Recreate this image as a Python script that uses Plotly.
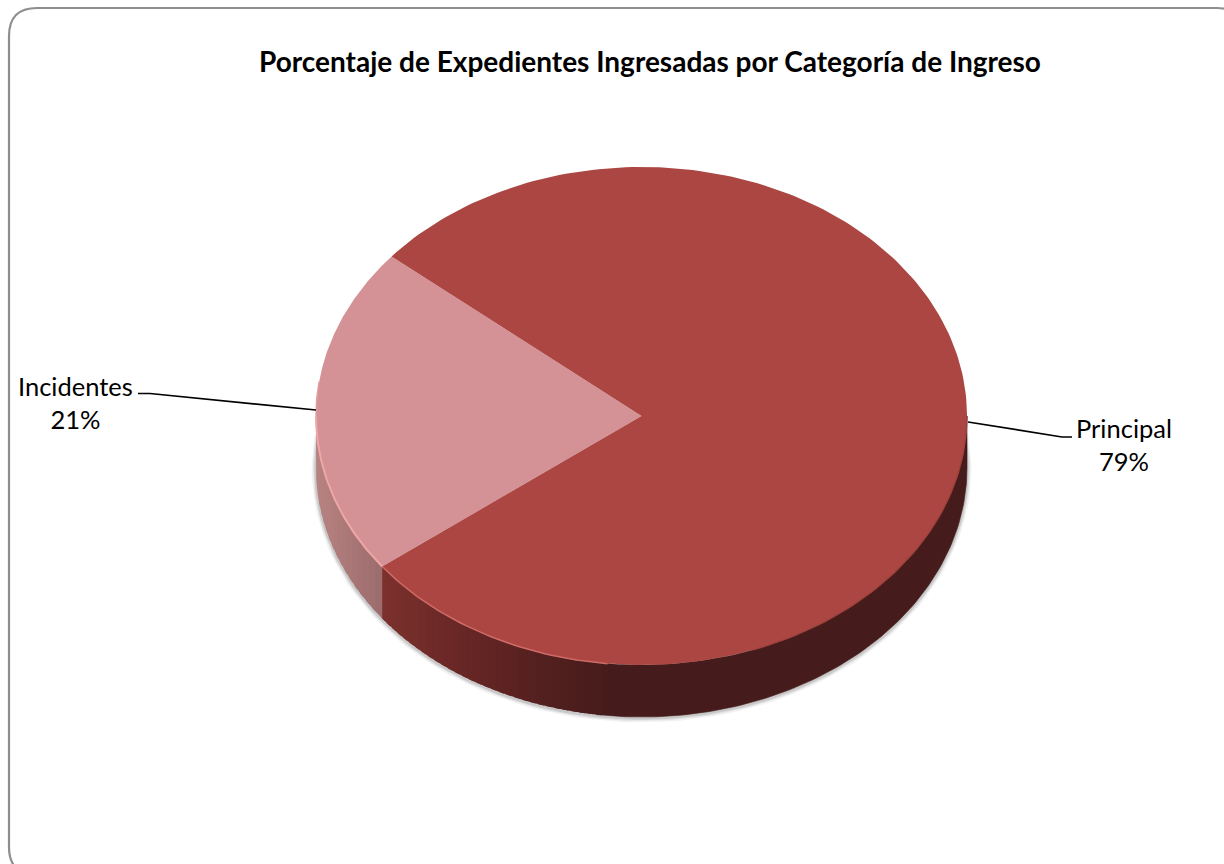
import numpy as np
import plotly.graph_objects as go

title = "Porcentaje de Expedientes Ingresadas por Categoría de Ingreso"
categories = ["Incidentes", "Principal"]
values = [21.4, 78.6]
percent_labels = ["21%", "79%"]
top_colors = ["#D49296", "#AB4642"]

W, H = 1224, 864
CX, CY, RX, RY, DEPTH = 641.5, 416.0, 325.5, 249.0, 52.0
START = 142.8  # screen-angle where first slice starts, clockwise on screen


def px(t, dy=0.0):
    r = np.radians(t)
    return CX + RX * np.cos(r), CY + RY * np.sin(r) + dy


def lerp_color(stops, x):
    xs = [s[0] for s in stops]
    out = [np.interp(x, xs, [s[1][i] for s in stops]) for i in range(3)]
    return "rgb(%d,%d,%d)" % tuple(int(round(v)) for v in out)


WALL_STOPS = {
    "Incidentes": [(316, (184, 130, 130)), (383, (155, 108, 108))],
    "Principal": [(383, (124, 49, 45)), (460, (104, 39, 37)), (540, (84, 32, 31)), (610, (69, 28, 27)), (967, (69, 28, 27))],
}
FLAT_DARK = "rgb(69,28,27)"

spans = [v / sum(values) * 360 for v in values]
bounds = [START]
for s in spans:
    bounds.append(bounds[-1] + s)

fig = go.Figure()


def add_poly(x, y, color, lw=0.0):
    fig.add_trace(go.Scatter(x=x, y=y, mode="lines", fill="toself", fillcolor=color,
                             line=dict(color=color, width=lw), hoverinfo="skip", showlegend=False))


def add_line(x, y, color, width):
    fig.add_trace(go.Scatter(x=x, y=y, mode="lines", line=dict(color=color, width=width),
                             hoverinfo="skip", showlegend=False))


def wall(lo, hi, color, lw=1.0):
    seg = np.linspace(lo, hi, max(3, int(hi - lo) + 2))
    xt, yt = px(seg)
    xb, yb = px(seg[::-1], DEPTH)
    add_poly(np.r_[xt, xb, xt[0]], np.r_[yt, yb, yt[0]], color, lw)


# soft shadow below the disc wall
ts = np.linspace(-8, 188, 160)
for w, a in [(9, 0.05), (6, 0.07), (3.5, 0.10)]:
    sx, sy = px(ts, DEPTH + 1)
    add_line(sx, sy, f"rgba(0,0,0,{a})", w)

# wall: one flat polygon where the shade is constant, narrow bands by x elsewhere
flat_end = 97.0  # screen angle where the shade stops changing
wall(0, flat_end + 1, FLAT_DARK, 0.6)
band_edges = np.r_[np.arange(flat_end, bounds[0], 1.5), bounds[0]]
for e0, e1 in zip(band_edges[:-1], band_edges[1:]):
    col = lerp_color(WALL_STOPS[categories[1]], float(px((e0 + e1) / 2)[0]))
    wall(e0, e1 + 1.0 if e1 < bounds[0] else e1, col, 0.0)
band_edges = np.r_[np.arange(bounds[0], 180, 2.0), 180]
for e0, e1 in zip(band_edges[:-1], band_edges[1:]):
    col = lerp_color(WALL_STOPS[categories[0]], float(px((e0 + e1) / 2)[0]))
    wall(e0, min(e1 + 1.0, 180), col, 0.0)

# top face slices
for i, cat in enumerate(categories):
    t = np.linspace(bounds[i], bounds[i + 1], 240)
    x, y = px(t)
    add_poly(np.r_[CX, x, CX], np.r_[CY, y, CY], top_colors[i], 0.0)

# bevel highlight on top edge
t = np.linspace(bounds[0], 180, 60)
add_line(*px(t), "#EFA6A6", 2)
t = np.linspace(180, 188, 10)
add_line(*px(t), "#E29C9E", 1.5)
t = np.linspace(96, bounds[0], 60)
add_line(*px(t), "#CF6A66", 1.5)
t = np.linspace(0, 70, 60)
add_line(*px(t), "#9C3F3B", 1.2)

# leader lines
add_line([138, 150, 316], [393.5, 393.5, 410], "#000000", 1.7)
add_line([968, 1062, 1072], [422, 437, 437], "#000000", 1.7)

# frame
r = 28
L, T, R, B = 9, 8, 1245, 875
frame = (f"M {L},{T+r} Q {L},{T} {L+r},{T} L {R-r},{T} Q {R},{T} {R},{T+r} "
         f"L {R},{B-r} Q {R},{B} {R-r},{B} L {L+r},{B} Q {L},{B} {L},{B-r} Z")

FONT = "Lato, 'Open Sans', sans-serif"
fig.update_layout(
    width=W, height=H, margin=dict(l=0, r=0, t=0, b=0), autosize=False,
    paper_bgcolor="white", plot_bgcolor="white", showlegend=False,
    xaxis=dict(range=[0, W], visible=False, fixedrange=True),
    yaxis=dict(range=[H, 0], visible=False, fixedrange=True),
    shapes=[dict(type="path", path=frame, line=dict(color="#8E8E8E", width=2.2), layer="below")],
    annotations=[
        dict(x=650, y=61, text=f"<b>{title}</b>", showarrow=False, xanchor="center", yanchor="middle",
             font=dict(family=FONT, size=28, color="#000000")),
        dict(x=75, y=402, text=f"{categories[0]}<br>{percent_labels[0]}", showarrow=False, xanchor="center",
             yanchor="middle", align="center", font=dict(family=FONT, size=25.5, color="#000000")),
        dict(x=1124, y=444, text=f"{categories[1]}<br>{percent_labels[1]}", showarrow=False, xanchor="center",
             yanchor="middle", align="center", font=dict(family=FONT, size=25.5, color="#000000")),
    ],
)
fig.write_html("out.html", config=dict(displayModeBar=False),
               post_script="document.body.style.margin='0';document.documentElement.style.overflow='hidden';")
